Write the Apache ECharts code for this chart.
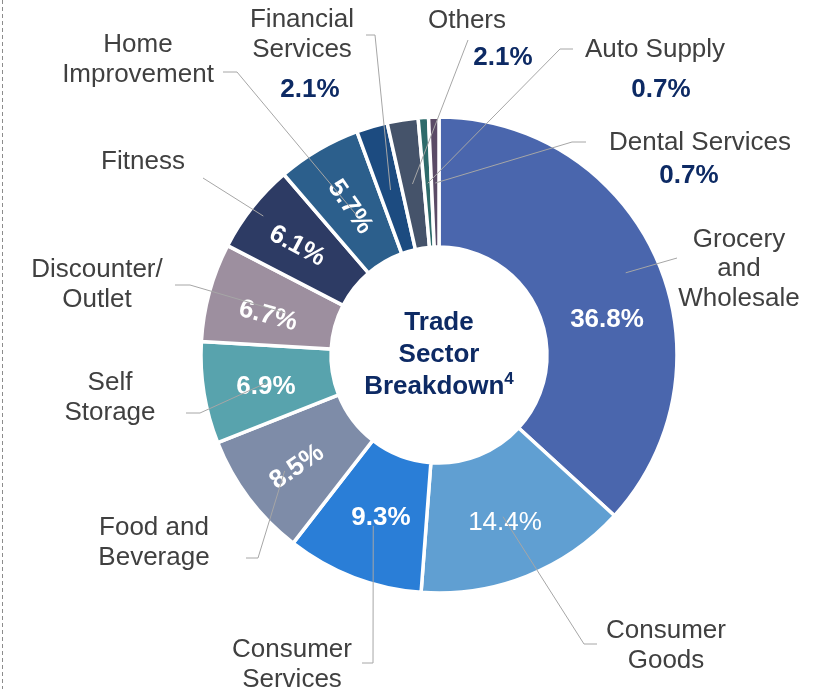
<!DOCTYPE html>
<html>
<head>
<meta charset="utf-8">
<script src="https://cdn.jsdelivr.net/npm/echarts@6/dist/echarts.min.js"></script>
<style>
  html, body { margin: 0; padding: 0; background: #fff; }
  #chart { width: 821px; height: 689px; }
</style>
</head>
<body>
<div id="chart"></div>
<script>
  // trade sector breakdown, clockwise from 12 o'clock
  const sectors = ['Grocery\nand\nWholesale', 'Consumer\nGoods', 'Consumer\nServices', 'Food and\nBeverage',
    'Self\nStorage', 'Discounter/\nOutlet', 'Fitness', 'Home\nImprovement', 'Financial\nServices',
    'Others', 'Auto Supply', 'Dental Services']
  const shares = [36.8, 14.4, 9.3, 8.5, 6.9, 6.7, 6.1, 5.7, 2.1, 2.1, 0.7, 0.7]
  const colors = ['#4a66ad', '#609fd2', '#2a7ed7', '#7e8ca8', '#58a3ad', '#9d8f9f', '#2d3b64',
    '#2c5f8c', '#1c4b80', '#45536a', '#2e6b6b', '#5b4b66']

  // label layout (not data)
  const pctPos = [[607, 320], [505, 523], [381, 518], [297, 467], [266, 387], [268, 316], [297, 246],
    [350, 207], [310, 90], [503, 58], [661, 90], [689, 176]]
  const pctRotate = [0, 0, 0, 35, 0, -15, -28, -55, 0, 0, 0, 0]
  const namePos = [[739, 269], [666, 646], [292, 665], [154, 543], [110, 398], [97, 285], [143, 162],
    [138, 60], [302, 35], [467, 21], [655, 50], [700, 143]]
  const lineEnds = [
    [[677, 258], [677, 258]], [[584, 644], [597, 644]], [[373, 663], [362, 663]], [[258, 558], [246, 558]],
    [[200, 413], [186, 413]], [[190, 285], [175, 285]], [[203, 178], [203, 178]], [[237, 72], [223, 72]],
    [[375, 35], [366, 35]], [[468, 40], [468, 40]], [[560, 49], [573, 49]], [[572, 142], [586, 142]]
  ]
  const lineR = [204, 174, 183, 193, 175, 160, 224, 161, 172, 173, 172, 172]

  const font = '"Liberation Sans", Arial, sans-serif'
  const navy = '#0d2a64'
  const center = [439, 355]
  const guideR = 173

  const chart = echarts.init(document.getElementById('chart'))

  const donutData = sectors.map((name, i) => {
    const small = shares[i] < 3
    return {
      name,
      value: shares[i],
      itemStyle: { color: colors[i] },
      label: {
        color: small ? navy : '#fff',
        fontWeight: i === 1 ? 'normal' : 'bold'
      }
    }
  })

  chart.setOption({
    animation: false,
    graphic: [
      {
        type: 'line',
        shape: { x1: 2.5, y1: 0, x2: 2.5, y2: 689 },
        style: { stroke: '#8c8c8c', lineWidth: 1, lineDash: [4, 3] }
      },
      {
        type: 'text',
        x: center[0],
        y: center[1],
        style: {
          text: '{a|Trade}\n{a|Sector}\n{a|Breakdown}{s|4}',
          align: 'center',
          verticalAlign: 'middle',
          rich: {
            a: { fontFamily: font, fontSize: 26, fontWeight: 'bold', fill: navy, lineHeight: 32 },
            s: { fontFamily: font, fontSize: 17, fontWeight: 'bold', fill: navy, lineHeight: 32, verticalAlign: 'top' }
          }
        }
      }
    ],
    series: [
      {
        type: 'pie',
        z: 2,
        center,
        radius: [108, 238],
        startAngle: 90,
        clockwise: true,
        silent: true,
        avoidLabelOverlap: false,
        itemStyle: { borderColor: '#fff', borderWidth: 3.5 },
        label: {
          show: true,
          position: 'inside',
          fontFamily: font,
          fontSize: 26,
          formatter: p => p.value.toFixed(1) + '%'
        },
        labelLine: { show: false },
        labelLayout: p => ({
          x: pctPos[p.dataIndex][0],
          y: pctPos[p.dataIndex][1],
          align: 'center',
          verticalAlign: 'middle',
          rotate: pctRotate[p.dataIndex]
        }),
        data: donutData
      },
      {
        type: 'pie',
        z: 5,
        center,
        radius: [0, guideR],
        startAngle: 90,
        clockwise: true,
        silent: true,
        avoidLabelOverlap: false,
        itemStyle: { color: 'rgba(0,0,0,0)' },
        label: {
          show: true,
          position: 'outside',
          formatter: '{b}',
          fontFamily: font,
          fontSize: 26,
          lineHeight: 29.5,
          color: '#404040'
        },
        labelLine: { show: true, length: 10, length2: 10, lineStyle: { color: '#a6a6a6', width: 1 } },
        labelLayout: p => {
          const i = p.dataIndex
          const p0 = p.labelLinePoints[0]
          const k = lineR[i] / guideR
          const start = [center[0] + (p0[0] - center[0]) * k, center[1] + (p0[1] - center[1]) * k]
          return {
            x: namePos[i][0],
            y: namePos[i][1],
            align: 'center',
            verticalAlign: 'middle',
            labelLinePoints: [start, lineEnds[i][0], lineEnds[i][1]]
          }
        },
        data: sectors.map((name, i) => ({ name, value: shares[i] }))
      }
    ]
  })
</script>
</body>
</html>
